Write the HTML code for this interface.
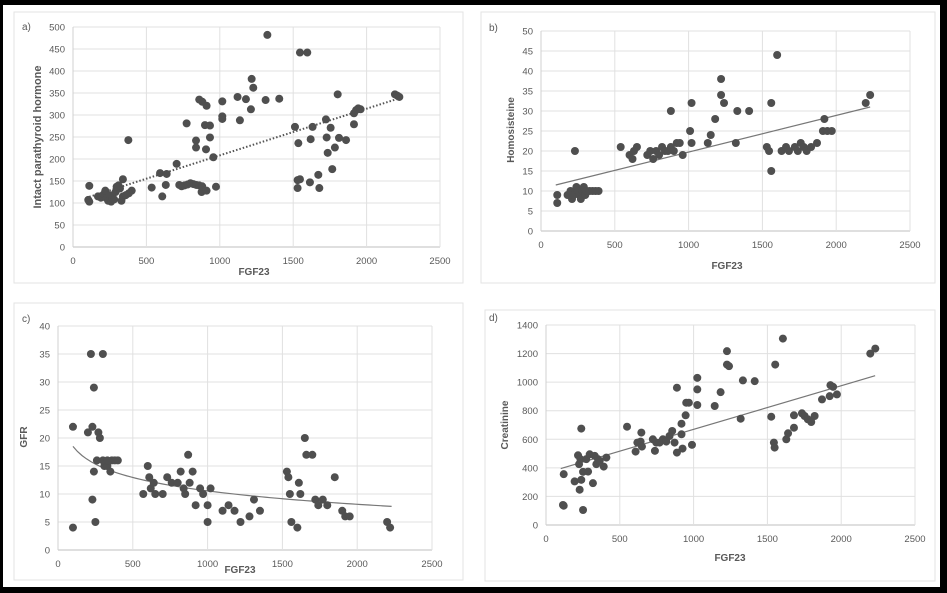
<!DOCTYPE html>
<html><head><meta charset="utf-8"><style>
html,body{margin:0;padding:0;background:#000;}
svg{display:block;}
text{font-family:"Liberation Sans",sans-serif;fill:#595959;}
</style></head><body>
<svg id="s" width="947" height="593" xmlns="http://www.w3.org/2000/svg">
<rect x="3" y="5" width="937" height="582" fill="#fff"/>
</svg>
<script>
const S=document.getElementById('s');const NS='http://www.w3.org/2000/svg';
function el(t,a,txt){const e=document.createElementNS(NS,t);for(const k in a)e.setAttribute(k,a[k]);if(txt!=null)e.textContent=txt;S.appendChild(e);return e;}
function panel(o){
 el('rect',{x:o.bx,y:o.by,width:o.bw,height:o.bh,fill:'#fff',stroke:'#e3e3e3','stroke-width':1});
 const X=v=>o.x0+(o.x1-o.x0)*v/2500, Y=v=>o.y0-(o.y0-o.y1)*v/o.ymax;
 for(let v=0;v<=o.ymax;v+=o.ystep){el('line',{x1:o.x0,x2:o.x1,y1:Y(v),y2:Y(v),stroke:v==0?'#bfbfbf':'#e0e0e0','stroke-width':1});
  el('text',{x:o.x0-8,y:Y(v)+3.5,'text-anchor':'end','font-size':9.5},v);}
 for(let v=0;v<=2500;v+=500){if(v>0)el('line',{x1:X(v),x2:X(v),y1:o.y0,y2:o.y1,stroke:'#e0e0e0'});
  el('text',{x:X(v),y:o.y0+17,'text-anchor':'middle','font-size':9.5},v);}
 el('line',{x1:o.x0,x2:o.x0,y1:o.y0,y2:o.y1,stroke:'#d0d0d0'});
 el('text',{x:o.lx,y:o.ly,'font-size':10,fill:'#222'},o.lab);
 el('text',{x:o.xtx,y:o.xty,'text-anchor':'middle','font-size':10,'font-weight':'bold'},'FGF23');
 el('text',{x:o.ytx,y:o.yty,'text-anchor':'middle','font-size':o.yfs||10,'font-weight':'bold',transform:`rotate(-90 ${o.ytx} ${o.yty})`},o.yt);
 const p=o.trend.map(q=>X(q[0])+','+Y(q[1])).join(' ');
 el('polyline',{points:p,fill:'none',stroke:o.dotted?'#555':'#777','stroke-width':o.dotted?2:1.2,'stroke-dasharray':o.dotted?'1.5 2':'none'});
 for(const d of o.pts)el('circle',{cx:X(d[0]),cy:Y(d[1]),r:4,fill:'#4f4f4f'});
}
const A=[[111,139],[111,103],[104,107],[170,115],[190,112],[210,120],[220,128],[230,110],[240,105],[250,118],[260,103],[270,112],[280,108],[290,125],[300,135],[310,140],[320,133],[330,105],[340,115],[297,137],[340,154],[377,243],[400,128],[380,122],[360,118],[536,135],[593,168],[608,115],[638,166],[632,141],[706,189],[724,141],[740,138],[760,140],[780,142],[800,145],[820,143],[840,141],[860,140],[880,138],[774,281],[838,242],[838,226],[860,335],[881,330],[910,321],[906,222],[899,277],[933,276],[933,249],[956,204],[876,125],[910,128],[974,137],[1017,331],[1017,297],[1017,291],[1121,341],[1137,288],[1178,336],[1217,382],[1228,362],[1212,313],[1312,334],[1324,482],[1405,337],[1512,273],[1535,236],[1530,152],[1546,154],[1530,134],[1546,442],[1596,442],[1619,245],[1632,273],[1614,147],[1671,164],[1678,134],[1723,290],[1728,249],[1735,214],[1755,271],[1766,177],[1784,226],[1803,347],[1812,248],[1860,243],[1914,304],[1914,279],[1928,311],[1943,315],[1959,313],[2193,347],[2209,344],[2223,341]];
panel({bx:14,by:12,bw:449,bh:271,x0:73,x1:440,y0:247,y1:27,ymax:500,ystep:50,lab:'a)',lx:22,ly:30,xtx:254,xty:275,ytx:41,yty:137,yt:'Intact parathyroid hormone',yfs:11,dotted:true,trend:[[111,114],[2223,338]],pts:A});
const B=[[110,9],[110,7],[230,20],[180,9],[200,10],[210,8],[220,9],[240,11],[250,10],[260,9],[270,8],[280,10],[290,11],[300,9],[310,10],[330,10],[350,10],[370,10],[390,10],[540,21],[600,19],[620,18],[630,20],[650,21],[720,19],[740,20],[760,18],[780,20],[800,19],[820,21],[840,20],[860,20],[880,21],[900,20],[920,22],[940,22],[880,30],[960,19],[1010,25],[1020,32],[1020,22],[1130,22],[1150,24],[1180,28],[1220,38],[1220,34],[1240,32],[1320,22],[1330,30],[1410,30],[1530,21],[1545,20],[1560,32],[1560,15],[1600,44],[1630,20],[1660,21],[1680,20],[1720,21],[1740,20],[1760,22],[1780,21],[1800,20],[1830,21],[1870,22],[1910,25],[1920,28],[1940,25],[1970,25],[2200,32],[2230,34]];
panel({bx:481,by:12,bw:454,bh:271,x0:541,x1:910,y0:231,y1:31,ymax:50,ystep:5,lab:'b)',lx:489,ly:31,xtx:727,xty:269,ytx:514,yty:130,yt:'Homosisteine',trend:[[100,11.5],[2230,31]],pts:B});
const C=[[100,22],[100,4],[200,21],[220,35],[230,22],[240,29],[250,5],[230,9],[240,14],[260,16],[270,21],[280,20],[300,35],[310,15],[330,15],[350,14],[360,16],[380,16],[400,16],[300,16],[330,16],[570,10],[600,15],[610,13],[620,11],[640,12],[650,10],[700,10],[730,13],[760,12],[800,12],[820,14],[840,11],[850,10],[870,17],[880,12],[900,14],[920,8],[950,11],[970,10],[1000,8],[1000,5],[1020,11],[1100,7],[1140,8],[1180,7],[1220,5],[1280,6],[1310,9],[1350,7],[1530,14],[1540,13],[1550,10],[1560,5],[1600,4],[1610,12],[1620,10],[1650,20],[1660,17],[1700,17],[1720,9],[1740,8],[1770,9],[1800,8],[1850,13],[1900,7],[1920,6],[1950,6],[2200,5],[2220,4]];
const ct=[];for(let x=100;x<=2230;x+=30)ct.push([x,18.5-3.45*Math.log(x/100)]);
panel({bx:14,by:303,bw:449,bh:277,x0:58,x1:432,y0:550,y1:326,ymax:40,ystep:5,lab:'c)',lx:22,ly:322,xtx:240,xty:573,ytx:27,yty:437,yt:'GFR',trend:ct,pts:C});
const D=[[120,356],[115,140],[120,135],[194,305],[228,247],[239,316],[239,675],[251,105],[217,488],[224,426],[233,461],[251,372],[273,461],[285,374],[296,495],[318,293],[330,484],[341,426],[352,461],[364,449],[391,409],[409,472],[549,688],[607,514],[619,577],[641,584],[646,647],[650,549],[724,600],[738,519],[747,577],[770,577],[792,600],[815,584],[837,623],[855,658],[871,577],[887,507],[887,961],[918,709],[918,635],[925,535],[946,768],[950,856],[968,856],[989,561],[1025,1030],[1025,949],[1025,840],[1143,833],[1183,930],[1226,1217],[1226,1123],[1240,1112],[1319,744],[1334,1012],[1414,1007],[1526,758],[1544,577],[1553,1123],[1549,542],[1605,1305],[1628,600],[1640,642],[1680,768],[1680,681],[1734,782],[1752,763],[1774,740],[1797,721],[1820,763],[1870,879],[1922,902],[1927,979],[1945,967],[1971,914],[2197,1200],[2231,1235]];
panel({bx:485,by:310,bw:450,bh:271,x0:546,x1:915,y0:525,y1:325,ymax:1400,ystep:200,lab:'d)',lx:489,ly:321,xtx:730,xty:561,ytx:508,yty:425,yt:'Creatinine',trend:[[100,395],[2230,1045]],pts:D});
</script>
</body></html>
